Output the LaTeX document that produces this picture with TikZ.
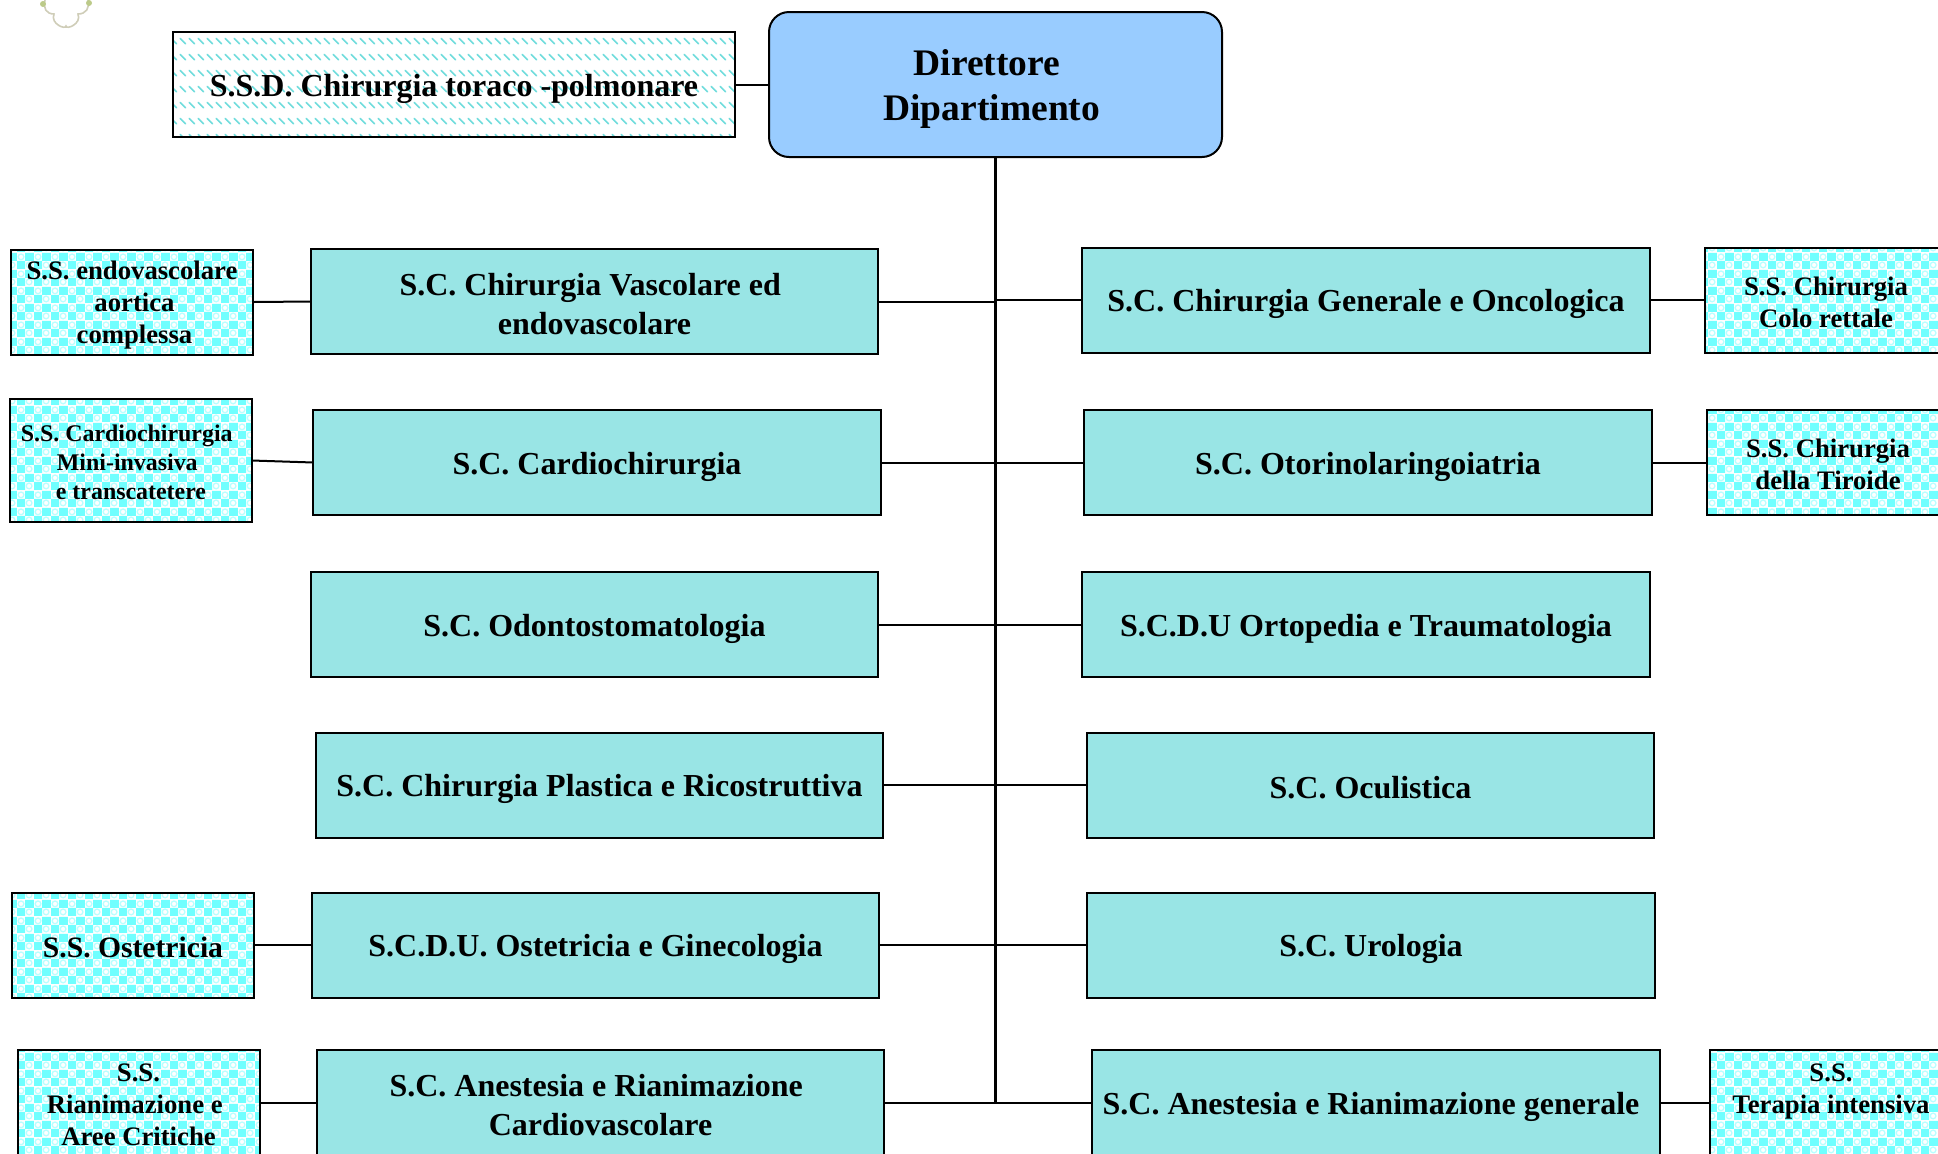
\documentclass[tikz,border=0pt]{standalone}
\usepackage{fontspec}
\setmainfont{Liberation Serif}
\usetikzlibrary{patterns}
\definecolor{mainfill}{HTML}{99E5E5}
\definecolor{dirfill}{HTML}{99CCFF}
\definecolor{chk}{HTML}{70FFFF}
\definecolor{ringc}{HTML}{B8FFFF}
\definecolor{dashc}{HTML}{70DCDC}
\definecolor{logoc}{HTML}{CFCDB8}
\definecolor{logog}{HTML}{8FA63A}
\newcommand\st{\vrule width 0pt height .94em depth .1em\relax}
\pgfdeclarepatterninherentlycolored{checkp}{\pgfpointorigin}{\pgfqpoint{8.5pt}{8.5pt}}{\pgfqpoint{8.5pt}{8.5pt}}{%
  \pgfsetfillcolor{chk}%
  \pgfpathrectangle{\pgfpointorigin}{\pgfqpoint{4.25pt}{4.25pt}}%
  \pgfpathrectangle{\pgfqpoint{4.25pt}{4.25pt}}{\pgfqpoint{4.25pt}{4.25pt}}%
  \pgfusepath{fill}%
  \pgfsetstrokecolor{ringc}\pgfsetlinewidth{0.7pt}%
  \pgfpathcircle{\pgfqpoint{6.375pt}{2.125pt}}{1.5pt}%
  \pgfpathcircle{\pgfqpoint{2.125pt}{6.375pt}}{1.5pt}%
  \pgfusepath{stroke}%
}
\pgfdeclarepatterninherentlycolored{dashp}{\pgfpointorigin}{\pgfqpoint{4.25pt}{8pt}}{\pgfqpoint{4.25pt}{8pt}}{%
  \pgfsetstrokecolor{dashc}\pgfsetlinewidth{0.9pt}%
  \pgfsetroundcap
  \pgfpathmoveto{\pgfqpoint{0.6pt}{5.6pt}}%
  \pgfpathlineto{\pgfqpoint{3.4pt}{2.8pt}}%
  \pgfusepath{stroke}%
}
\tikzset{
  boxbase/.style={draw=black,line width=1pt,rectangle,inner sep=0pt,outer sep=0pt,align=center},
  mainbox/.style={boxbase,fill=mainfill,minimum width=283.6pt,minimum height=52.5pt,font=\fontsize{16}{19.8}\selectfont\bfseries},
  subbox/.style={boxbase,pattern=checkp,minimum width=121pt,minimum height=52.5pt,font=\fontsize{13.35}{16}\selectfont\bfseries},
  dashbox/.style={boxbase,pattern=dashp,minimum width=281pt,minimum height=52.5pt,font=\fontsize{16}{19.8}\selectfont\bfseries},
  dirbox/.style={draw=black,line width=1pt,rectangle,rounded corners=10pt,fill=dirfill,inner sep=0pt,outer sep=0pt,align=center,minimum width=226.5pt,minimum height=72.5pt,font=\fontsize{18.75}{22.3}\selectfont\bfseries},
  link/.style={draw=black,line width=1pt},
  trunk/.style={draw=black,line width=1.5pt}
}
\begin{document}
\begin{tikzpicture}[x=0.5pt,y=-0.5pt]
\useasboundingbox (0,0) rectangle (1938,1153);
\clip (0,0) rectangle (1938,1153);
% logo fragment
\draw[logoc,line width=0.8pt,fill=white] (45,0) .. controls (43,8) and (46,14) .. (54,14) .. controls (50,24) and (66,30) .. (66,26)
  .. controls (66,30) and (82,24) .. (78,14) .. controls (86,14) and (90,8) .. (88,0);
\fill[logog!60!white] (43,4) circle (3); \fill[logog!60!white] (89,3) circle (3);
% top
\node[dirbox] (dir) at (995.5,84.5) {\st Direttore\hspace*{8.6pt}\\\st Dipartimento\hspace*{3.7pt}};
\node[dashbox] (ssd) at (454,84.5) {\st S.S.D. Chirurgia toraco -polmonare};
% left column
\node[mainbox] (vasc) at (594.5,301.5) {\st S.C. Chirurgia Vascolare ed\hspace*{4.3pt}\\\st endovascolare};
\node[mainbox] (card) at (597,462.5) {\st S.C. Cardiochirurgia};
\node[mainbox] (odon) at (594.5,624.5) {\st S.C. Odontostomatologia};
\node[mainbox] (plas) at (599.5,785) {\st S.C. Chirurgia Plastica e Ricostruttiva};
\node[mainbox] (oste) at (595.5,945) {\st S.C.D.U. Ostetricia e Ginecologia};
\node[mainbox] (anel) at (600.5,1102.5) {\st S.C. Anestesia e Rianimazione\hspace*{4.3pt}\\\st Cardiovascolare};
% right column
\node[mainbox] (gene) at (1366,300) {\st S.C. Chirurgia Generale e Oncologica};
\node[mainbox] (otor) at (1368,462.5) {\st S.C. Otorinolaringoiatria};
\node[mainbox] (orto) at (1366,624.5) {\st S.C.D.U Ortopedia e Traumatologia};
\node[mainbox] (ocul) at (1370.5,785) {\st S.C. Oculistica};
\node[mainbox] (urol) at (1371,945) {\st S.C. Urologia};
\node[mainbox] (aner) at (1376,1102.5) {\st S.C. Anestesia e Rianimazione generale\hspace*{5pt}};
% left sub boxes
\node[subbox] (ssendo) at (132,302) {\st S.S. endovascolare\\\st\hspace*{2.5pt}aortica\\\st\hspace*{2.5pt}complessa};
\node[subbox,minimum height=61.5pt,font=\fontsize{11.95}{14.5}\selectfont\bfseries] (sscard) at (131,460.5) {\st S.S. Cardiochirurgia\hspace*{4.3pt}\\\st\mbox{Mini-invasiva\kern3.7pt}\\\st e transcatetere};
\node[subbox,font=\fontsize{14.8}{16}\selectfont\bfseries] (ssoste) at (133,945) {\st S.S. Ostetricia};
\node[subbox] (ssrian) at (138.5,1102.5) {\st S.S.\\\st\mbox{Rianimazione e\kern3.7pt}\\\st Aree Critiche};
% right sub boxes
\node[subbox] (sscolo) at (1826,300) {\st S.S. Chirurgia\\\st Colo rettale};
\node[subbox] (sstiro) at (1828,462.5) {\st S.S. Chirurgia\\\st della Tiroide};
\node[subbox] (ssinte) at (1831,1102.5) {\st S.S.\\\st Terapia intensiva\\\st~};
% connectors
\draw[trunk] (dir.south) -- (dir.south |- anel.east);
\draw[link] (ssd.east) -- (dir.west);
\foreach \n in {vasc,card,odon,plas,oste,anel}{\draw[link] (\n.east) -- (dir.south |- \n.east);}
\foreach \n in {gene,otor,orto,ocul,urol,aner}{\draw[link] (\n.west) -- (dir.south |- \n.west);}
\draw[link] (ssendo.east) -- (vasc.west);
\draw[link] (sscard.east) -- (card.west);
\draw[link] (ssoste.east) -- (oste.west);
\draw[link] (ssrian.east) -- (anel.west);
\draw[link] (gene.east) -- (sscolo.west);
\draw[link] (otor.east) -- (sstiro.west);
\draw[link] (aner.east) -- (ssinte.west);
\end{tikzpicture}
\end{document}
